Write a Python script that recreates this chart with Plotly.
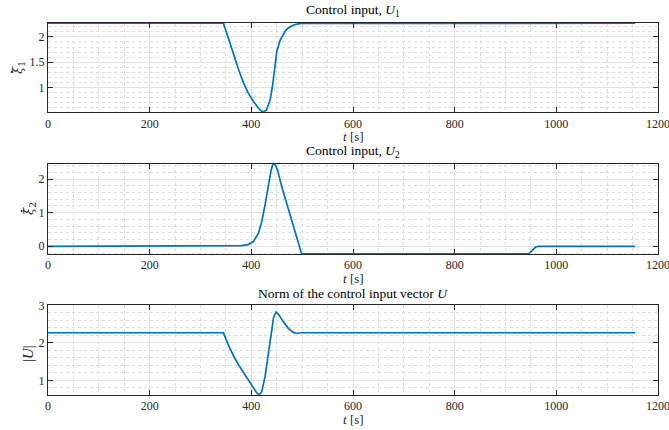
import plotly.graph_objects as go

# ---- data ----
t_u1 = [0, 345, 355, 365, 375, 385, 394, 404, 414, 420, 424, 430, 437, 442, 445.5, 450, 456.5, 466.5, 472, 480, 488, 498, 1155]
u1 = [2.27, 2.27, 1.97, 1.64, 1.35, 1.08, 0.89, 0.73, 0.59, 0.535, 0.515, 0.56, 0.76, 1.05, 1.38, 1.71, 1.93, 2.11, 2.17, 2.22, 2.25, 2.265, 2.27]

t_u2 = [0, 345, 380, 394, 404, 414, 420.6, 427, 433.7, 439, 442, 445, 448, 452, 460, 480, 499, 945, 950, 955, 960, 965, 1155]
u2 = [0, 0, 0.02, 0.05, 0.14, 0.39, 0.74, 1.23, 1.82, 2.27, 2.42, 2.455, 2.40, 2.25, 1.76, 0.74, -0.226, -0.226, -0.17, -0.08, -0.02, 0, 0]

t_un = [0, 345, 355, 365, 375, 385, 394, 404, 411, 415.5, 420.5, 427, 434, 439, 444, 448.5, 453.5, 463, 473, 483, 490, 498, 1155]
unorm = [2.27, 2.27, 1.94, 1.65, 1.41, 1.20, 1.01, 0.79, 0.66, 0.615, 0.70, 1.10, 1.72, 2.25, 2.69, 2.82, 2.76, 2.56, 2.38, 2.28, 2.25, 2.27, 2.27]

x_ticks = [0, 200, 400, 600, 800, 1000, 1200]
titles = ["Control input, <i>U</i><sub>1</sub>",
          "Control input, <i>U</i><sub>2</sub>",
          "Norm of the control input vector <i>U</i>"]
ylabels = ["<i>\u03be</i><sub>1</sub>", "<i>\u03be</i><sub>2</sub>", "|<i>U</i>|"]
xlabel = "<i>t</i> [s]"

LINE = "#0072BD"
AX = "#262626"
FONT = "Liberation Serif"
W, H = 669, 430
ML, MR, MT, MB = 48, 11, 23, 35
PH = H - MT - MB

def py2paper(py):
    return 1 - (py - MT) / PH

series = [(t_u1, u1), (t_u2, u2), (t_un, unorm)]
yranges = [[min(u1) - 0.004, max(u1) + 0.004],
           [min(u2) - 0.004, max(u2) + 0.004],
           [min(unorm) - 0.004, 3]]
ydticks = [0.5, 1, 1]
yminor = [0.1, 0.2, 0.2]
domains = [[0.760, 1.0], [0.379, 0.622], [0.0, 0.241]]
# y-label placement (pixel centres) and the derivative dot placement
ylab_pos = [(18, 68), (29, 209), (28, 354)]
ylab_font = ["DejaVu Serif", "DejaVu Serif", FONT]
ylab_size = [13, 13, 15]
dot_pos = [(11.5, 72), (21, 211), None]

fig = go.Figure()
for i, (tx, vy) in enumerate(series):
    n = "" if i == 0 else str(i + 1)
    fig.add_trace(go.Scatter(x=tx, y=vy, mode="lines",
                             line=dict(color=LINE, width=1.7),
                             xaxis="x" + n, yaxis="y" + n, showlegend=False))
    common = dict(showline=True, linecolor=AX, linewidth=1, mirror="ticks",
                  ticks="inside", ticklen=5, tickcolor=AX, tickwidth=1,
                  showgrid=True, gridcolor="#e3e3e3", gridwidth=1,
                  zeroline=False, automargin=False, ticklabeloverflow="allow",
                  tickfont=dict(family=FONT, size=12, color=AX))
    fig.update_layout(**{
        "xaxis" + n: dict(common, domain=[0, 1], anchor="y" + n,
                          range=[0, 1200], tickvals=x_ticks,
                          minor=dict(dtick=50, tick0=0, showgrid=True, griddash="dot",
                                     gridcolor="#dddddd", gridwidth=1)),
        "yaxis" + n: dict(common, domain=domains[i], anchor="x" + n,
                          range=yranges[i], dtick=ydticks[i], tick0=0,
                          minor=dict(dtick=yminor[i], tick0=0, showgrid=True, griddash="dot",
                                     gridcolor="#dddddd", gridwidth=1)),
    })
    fig.add_annotation(text=titles[i], x=0.5, xref="paper",
                       y=domains[i][1], yref="paper", yanchor="bottom", yshift=2,
                       showarrow=False, font=dict(family=FONT, size=13.5, color="#000000"))
    fig.add_annotation(text=xlabel, x=0.5, xref="paper",
                       y=domains[i][0], yref="paper", yanchor="middle", yshift=-24,
                       showarrow=False, font=dict(family=FONT, size=13, color=AX))
    cx, cy = ylab_pos[i]
    fig.add_annotation(text=ylabels[i], textangle=-90, x=0, xref="paper",
                       xshift=cx - ML, xanchor="center",
                       y=py2paper(cy), yref="paper", yanchor="middle",
                       showarrow=False,
                       font=dict(family=ylab_font[i], size=ylab_size[i], color=AX))
    if dot_pos[i] is not None:
        dx, dy = dot_pos[i]
        fig.add_annotation(text="\u00b7", x=0, xref="paper",
                           xshift=dx - ML, xanchor="center",
                           y=py2paper(dy), yref="paper", yanchor="middle",
                           showarrow=False,
                           font=dict(family=FONT, size=16, color=AX))

fig.update_layout(width=W, height=H,
                  margin=dict(l=ML, r=MR, t=MT, b=MB),
                  paper_bgcolor="white", plot_bgcolor="white")

fig.write_html("out.html", config={"displayModeBar": False},
               post_script="document.body.style.margin='0';")
